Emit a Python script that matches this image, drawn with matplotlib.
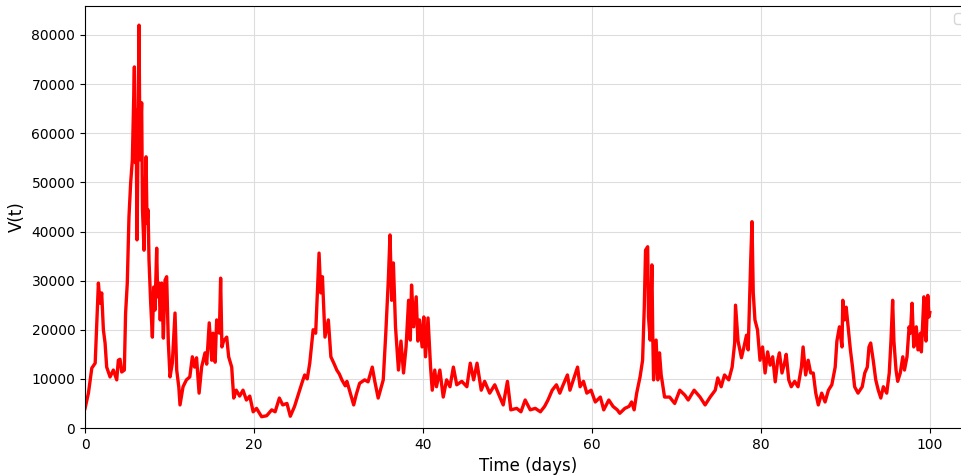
import matplotlib.pyplot as plt

# Tiempo (dias) y carga viral V(t)
tiempo = [
    0.0, 0.4, 0.8, 1.2, 1.58, 1.78, 1.97, 2.17, 2.37, 2.56, 2.96, 3.35, 3.75, 3.94,
    4.14, 4.34, 4.65, 4.8, 5.0, 5.2, 5.4, 5.6, 5.84, 5.96, 6.04, 6.15, 6.27, 6.39,
    6.5, 6.6, 6.7, 6.8, 6.98, 7.1, 7.22, 7.34, 7.46, 7.57, 7.77, 7.97, 8.13, 8.28,
    8.48, 8.6, 8.76, 8.9, 9.07, 9.27, 9.47, 9.66, 9.86, 10.06, 10.33, 10.65, 10.85,
    11.1, 11.24, 11.6, 12.0, 12.4, 12.7, 12.97, 13.2, 13.5, 13.8, 14.2, 14.4, 14.7,
    15.0, 15.15, 15.4, 15.58, 15.9, 16.05, 16.2, 16.4, 16.77, 17.0, 17.36, 17.6,
    17.9, 18.3, 18.7, 19.1, 19.5, 19.9, 20.3, 20.9, 21.5, 22.1, 22.5, 23.0, 23.4,
    23.9, 24.3, 24.8, 25.4, 25.7, 26.0, 26.3, 26.6, 27.0, 27.3, 27.7, 27.9, 28.1,
    28.4, 28.8, 29.1, 29.5, 29.8, 30.1, 30.4, 30.8, 31.0, 31.4, 31.8, 32.1, 32.5,
    33.1, 33.5, 34.0, 34.3, 34.7, 35.3, 35.6, 35.9, 36.1, 36.3, 36.5, 36.75, 37.1,
    37.4, 37.7, 38.0, 38.3, 38.5, 38.65, 38.9, 39.2, 39.4, 39.6, 39.9, 40.1, 40.3,
    40.6, 40.9, 41.1, 41.4, 41.6, 42.0, 42.4, 42.8, 43.2, 43.6, 44.0, 44.6, 45.2,
    45.6, 46.0, 46.4, 46.9, 47.3, 47.9, 48.5, 49.1, 49.5, 50.0, 50.4, 51.1, 51.6,
    52.1, 52.7, 53.3, 53.9, 54.4, 54.8, 55.3, 55.8, 56.2, 56.6, 57.1, 57.4, 57.8,
    58.3, 58.6, 59.0, 59.4, 59.9, 60.4, 61.0, 61.4, 62.0, 62.5, 63.0, 63.3, 63.9,
    64.4, 64.7, 65.0, 65.3, 65.7, 66.0, 66.2, 66.35, 66.6, 66.7, 66.9, 67.1, 67.2,
    67.3, 67.6, 67.8, 68.0, 68.2, 68.6, 69.2, 69.8, 70.4, 71.0, 71.4, 72.1, 72.8,
    73.4, 74.0, 74.6, 74.9, 75.3, 75.7, 76.2, 76.6, 76.9, 77.0, 77.3, 77.7, 78.0,
    78.3, 78.5, 78.8, 78.95, 79.1, 79.3, 79.6, 79.9, 80.2, 80.5, 80.8, 81.1, 81.4,
    81.7, 82.0, 82.2, 82.5, 82.8, 83.0, 83.3, 83.6, 84.0, 84.4, 84.8, 85.0, 85.3,
    85.6, 85.9, 86.2, 86.5, 86.8, 87.2, 87.6, 88.0, 88.4, 88.8, 89.0, 89.3, 89.6,
    89.7, 89.9, 90.1, 90.4, 90.6, 90.85, 91.1, 91.5, 92.0, 92.3, 92.6, 92.8, 93.0,
    93.3, 93.6, 93.9, 94.2, 94.5, 94.9, 95.2, 95.4, 95.6, 95.75, 96.0, 96.2, 96.5,
    96.8, 97.0, 97.3, 97.55, 97.7, 97.9, 98.1, 98.4, 98.6, 98.9, 99.0, 99.3, 99.4,
    99.55, 99.76, 99.9, 100.0,
]

carga = [
    4000, 7100, 12200, 13200, 29500, 25400, 27500, 20000, 17300, 12400, 10400, 11800,
    9800, 13800, 14000, 11400, 11800, 23400, 29500, 43000, 49900, 54600, 73500, 54000,
    64700, 38300, 58000, 82000, 54600, 61300, 66200, 44400, 36200, 45800, 55200, 41700,
    44400, 34200, 25400, 18500, 28700, 24000, 36600, 26700, 29500, 22000, 29500, 18300,
    30100, 30800, 17300, 10400, 13200, 23400, 11800, 8300, 4700, 8400, 9800, 10400,
    14500, 12400, 14300, 7100, 12400, 15300, 13000, 21400, 13800, 19300, 13400, 22000,
    19300, 30500, 16500, 17700, 18500, 14500, 12400, 6100, 7700, 6500, 7700, 5700,
    6500, 3300, 4000, 2300, 2500, 3700, 3300, 6100, 4700, 5000, 2400, 4400, 7700,
    9300, 10800, 10000, 13200, 20000, 19300, 35600, 27500, 30800, 18500, 22000, 14500,
    13000, 11800, 11000, 9800, 8600, 9500, 7100, 4700, 6800, 9100, 9800, 9400, 12400,
    9500, 6100, 9800, 19300, 30100, 39300, 26000, 33600, 20600, 11800, 17700, 11200,
    16500, 26000, 17900, 29100, 20600, 26700, 17700, 22000, 16500, 22600, 14500, 22400,
    12400, 7700, 11800, 8400, 11800, 6300, 9800, 8400, 12400, 8800, 9500, 8400, 13200,
    9800, 13200, 7700, 9500, 7100, 8800, 6300, 4700, 9500, 3700, 4000, 3300, 5700,
    3700, 4000, 3300, 4400, 5700, 7700, 8800, 7100, 8800, 10800, 7700, 9800, 12400,
    8400, 9500, 7100, 7700, 5300, 6300, 3700, 5700, 4400, 3700, 3000, 4000, 4400,
    5300, 3700, 7100, 10400, 13800, 24600, 36200, 36900, 22600, 17900, 33200, 19300,
    9800, 17900, 9800, 15300, 10800, 6300, 6300, 5000, 7700, 6700, 5700, 7700, 6300,
    4700, 6300, 7700, 10200, 8400, 10800, 9800, 12400, 17300, 25000, 17700, 14300,
    16500, 18900, 15900, 34200, 42000, 27500, 22000, 20000, 13800, 16500, 11200, 15500,
    12800, 14500, 9400, 13800, 15300, 11200, 13200, 15000, 9800, 8400, 9500, 8400,
    12400, 16500, 10800, 13800, 11200, 11200, 7100, 4700, 7100, 5300, 7700, 8800,
    12400, 17700, 20600, 16500, 26000, 22000, 24600, 19300, 15900, 12400, 8400, 7100,
    8400, 11200, 12400, 16500, 17300, 13800, 9800, 7700, 6100, 8400, 7100, 11200,
    17700, 26000, 17700, 11800, 9500, 11200, 14500, 11800, 14500, 20600, 19300, 25400,
    16500, 20600, 15900, 19300, 15500, 26700, 20000, 17700, 27000, 22600, 23500,
]

fig = plt.figure(figsize=(9.61, 4.76), dpi=100)
# el eje sigue mas alla del borde derecho (la imagen original esta recortada)
ax = fig.add_axes([0.0885, 0.1008, 0.923, 0.8866])

ax.plot(tiempo, carga, color="red", linewidth=2.4)
ax.set_xlim(0, 105)
ax.set_ylim(0, 85900)
ax.set_xticks([0, 20, 40, 60, 80, 100])
ax.set_yticks(range(0, 80001, 10000))
ax.tick_params(labelsize=10)
ax.set_xlabel("Time (days)", fontsize=12)
ax.set_ylabel("V(t)", fontsize=12)
ax.grid(True, color="#dddddd", linewidth=0.8)
ax.set_axisbelow(True)
ax.legend(loc="upper right")

plt.savefig("out.png", dpi=100)
